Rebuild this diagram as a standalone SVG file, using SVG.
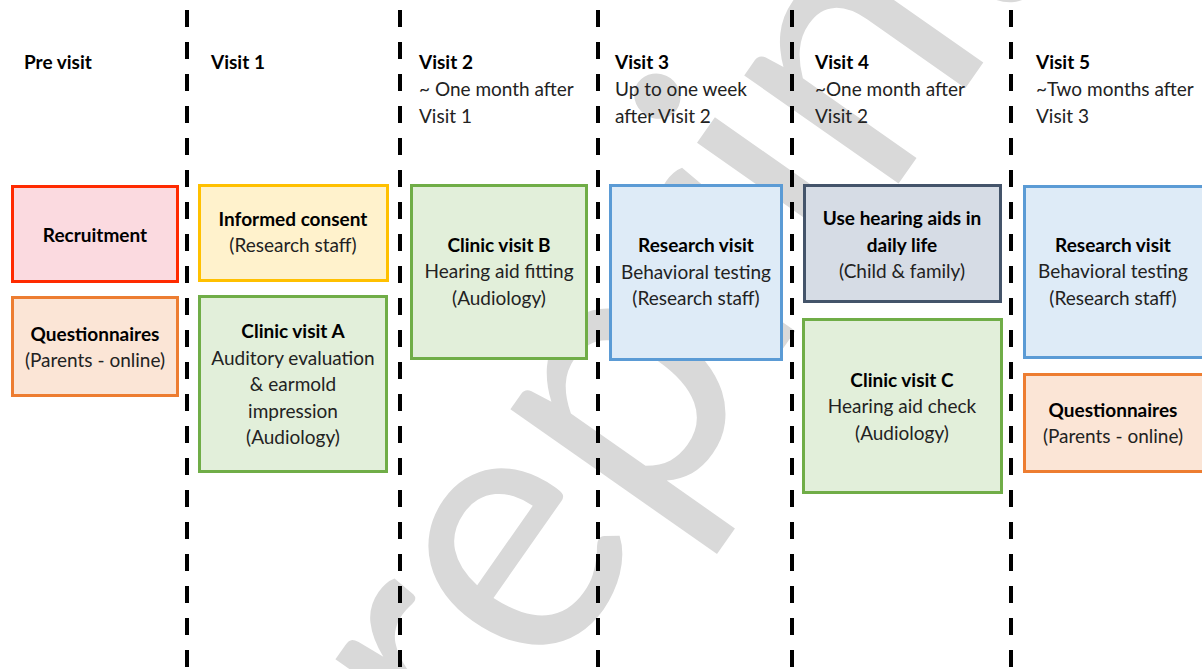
<svg xmlns="http://www.w3.org/2000/svg" width="1202" height="669" viewBox="0 0 1202 669">
<style>
text{font-family:Lato,"Liberation Sans",sans-serif;font-size:19px;fill:#222}
.b{font-weight:bold;fill:#000}
.c{text-anchor:middle}
.box{stroke-width:3}
.dash{stroke:#000;stroke-width:4;stroke-dasharray:17 15;fill:none}
.wm{font-family:Lato,"Liberation Sans",sans-serif;font-size:372px;fill:#d9d9d9;text-anchor:middle}
</style>
<rect width="1202" height="669" fill="#fff"/>
<text class="wm" transform="translate(712 450) rotate(-55)" textLength="1238" lengthAdjust="spacingAndGlyphs">Preprint</text>
<g id="connectors">
<line class="dash" x1="187" y1="10" x2="187" y2="669"/>
<line class="dash" x1="400" y1="10" x2="400" y2="669"/>
<line class="dash" x1="598" y1="10" x2="598" y2="669"/>
<line class="dash" x1="792" y1="10" x2="792" y2="669"/>
<line class="dash" x1="1011" y1="10" x2="1011" y2="669"/>
</g>
<g id="headers">
<text class="b" x="24" y="69">Pre visit</text>
<text class="b" x="211" y="69">Visit 1</text>
<text class="b" x="419" y="69">Visit 2</text>
<text x="419" y="96">~ One month after</text>
<text x="419" y="123">Visit 1</text>
<text class="b" x="615" y="69">Visit 3</text>
<text x="615" y="96">Up to one week</text>
<text x="615" y="123">after Visit 2</text>
<text class="b" x="815" y="69">Visit 4</text>
<text x="815" y="96">~One month after</text>
<text x="815" y="123">Visit 2</text>
<text class="b" x="1036" y="69">Visit 5</text>
<text x="1036" y="96">~Two months after</text>
<text x="1036" y="123">Visit 3</text>
</g>
<g id="recruitment">
<rect class="box" x="12.5" y="186.5" width="165" height="95" fill="#fbdae0" stroke="#ff2a00"/>
<text class="b c" x="95" y="242">Recruitment</text>
</g>
<g id="questionnaires-pre">
<rect class="box" x="12.5" y="297.5" width="165" height="98" fill="#fbe5d6" stroke="#ed7d31"/>
<text class="b c" x="95" y="341">Questionnaires</text>
<text class="c" x="95" y="367">(Parents - online)</text>
</g>
<g id="informed-consent">
<rect class="box" x="199.5" y="185.5" width="188" height="95" fill="#fff2cc" stroke="#ffc000"/>
<text class="b c" x="293" y="226">Informed consent</text>
<text class="c" x="293" y="252">(Research staff)</text>
</g>
<g id="clinic-a">
<rect class="box" x="199.5" y="296.5" width="187" height="175" fill="#e2efda" stroke="#70ad47"/>
<text class="b c" x="293" y="338">Clinic visit A</text>
<text class="c" x="293" y="365">Auditory evaluation</text>
<text class="c" x="293" y="391">&amp; earmold</text>
<text class="c" x="293" y="418">impression</text>
<text class="c" x="293" y="444">(Audiology)</text>
</g>
<g id="clinic-b">
<rect class="box" x="411.5" y="185.5" width="175" height="173" fill="#e2efda" stroke="#70ad47"/>
<text class="b c" x="499" y="252">Clinic visit B</text>
<text class="c" x="499" y="278">Hearing aid fitting</text>
<text class="c" x="499" y="305">(Audiology)</text>
</g>
<g id="research-3">
<rect class="box" x="610.5" y="185.5" width="171" height="174" fill="#deebf7" stroke="#5b9bd5"/>
<text class="b c" x="696" y="252">Research visit</text>
<text class="c" x="696" y="279">Behavioral testing</text>
<text class="c" x="696" y="305">(Research staff)</text>
</g>
<g id="daily-life">
<rect class="box" x="804.5" y="185.5" width="196" height="116" fill="#d6dce5" stroke="#44546a"/>
<text class="b c" x="902" y="225">Use hearing aids in</text>
<text class="b c" x="902" y="252">daily life</text>
<text class="c" x="902" y="278">(Child &amp; family)</text>
</g>
<g id="clinic-c">
<rect class="box" x="803.5" y="319.5" width="198" height="173" fill="#e2efda" stroke="#70ad47"/>
<text class="b c" x="902" y="387">Clinic visit C</text>
<text class="c" x="902" y="413">Hearing aid check</text>
<text class="c" x="902" y="440">(Audiology)</text>
</g>
<g id="research-5">
<rect class="box" x="1024.5" y="186.5" width="180" height="171" fill="#deebf7" stroke="#5b9bd5"/>
<text class="b c" x="1113" y="252">Research visit</text>
<text class="c" x="1113" y="278">Behavioral testing</text>
<text class="c" x="1113" y="305">(Research staff)</text>
</g>
<g id="questionnaires-5">
<rect class="box" x="1024.5" y="374.5" width="180" height="97" fill="#fbe5d6" stroke="#ed7d31"/>
<text class="b c" x="1113" y="417">Questionnaires</text>
<text class="c" x="1113" y="443">(Parents - online)</text>
</g>
</svg>
